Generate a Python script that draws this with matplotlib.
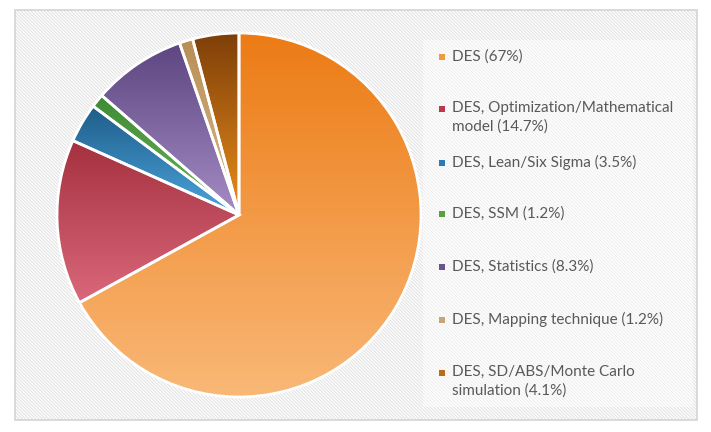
import numpy as np
import matplotlib
matplotlib.use("Agg")
import matplotlib.pyplot as plt
from matplotlib.patches import Rectangle
from matplotlib.colors import LinearSegmentedColormap

# --------------------- Data ---------------------
labels = [
    "DES (67%)",
    "DES, Optimization/Mathematical\nmodel (14.7%)",
    "DES, Lean/Six Sigma (3.5%)",
    "DES, SSM (1.2%)",
    "DES, Statistics (8.3%)",
    "DES, Mapping technique (1.2%)",
    "DES, SD/ABS/Monte Carlo\nsimulation (4.1%)",
]
shares = [67.0, 14.7, 3.5, 1.2, 8.3, 1.2, 4.1]

# gradient (top colour, bottom colour) per slice, plus legend key colour
grad_top = ["#EC7B14", "#A5313F", "#1E5D89", "#3F8A35", "#5C4580", "#B88E56", "#7E3F08"]
grad_bot = ["#F9B877", "#DA687B", "#4CA5DD", "#6BB75A", "#A58CC5", "#DABA8B", "#EA8E1C"]
key_cols = ["#F39A3E", "#B8394B", "#2C7BB6", "#5AA040", "#6A5390", "#C8A574", "#C0681C"]

# --------------------- Figure -------------------
W, H = 711, 432
fig = plt.figure(figsize=(W / 100, H / 100), dpi=100)
ax = fig.add_axes([0, 0, 1, 1])

# pie
cx, cy, r = 239, H - 215, 182
wedges, _ = ax.pie(shares, startangle=90, counterclock=False, center=(cx, cy),
                   radius=r, frame=True,
                   wedgeprops=dict(facecolor="none", edgecolor="white", linewidth=2.0))
ax.set_xlim(0, W)
ax.set_ylim(0, H)
ax.axis("off")

# chart area: white with fine diagonal hatch and grey border
plt.rcParams["hatch.linewidth"] = 0.8
ax.add_patch(Rectangle((15, 12), 682, 410, facecolor="white", edgecolor="#E2E2E2",
                       lw=0, hatch="\\" * 10, zorder=0))
ax.add_patch(Rectangle((15, 12), 682, 410, facecolor="none", edgecolor="#D4D4D4",
                       lw=1.2, zorder=5))
# lighter legend panel
ax.add_patch(Rectangle((423, 25), 270, 367, facecolor="white", edgecolor="none",
                       alpha=0.45, zorder=1))

for w, c_top, c_bot in zip(wedges, grad_top, grad_bot):
    w.set_zorder(3)
    verts = w.get_path().vertices
    x0, x1 = verts[:, 0].min(), verts[:, 0].max()
    y0, y1 = verts[:, 1].min(), verts[:, 1].max()
    cmap = LinearSegmentedColormap.from_list("g", [c_bot, c_top])
    grad = np.linspace(0, 1, 256).reshape(-1, 1)
    im = ax.imshow(grad, cmap=cmap, extent=(x0, x1, y0, y1), origin="lower",
                   aspect="auto", interpolation="bicubic", zorder=2)
    im.set_clip_path(w)

ax.set_xlim(0, W)
ax.set_ylim(0, H)

# legend (keys aligned with the first line of each entry)
legend_y = [57, 109, 163, 214, 267, 320, 373]
for lab, col, yy in zip(labels, key_cols, legend_y):
    ax.add_patch(Rectangle((439, H - yy - 3), 6, 6, facecolor=col, edgecolor="none", zorder=4))
    ax.text(452, H - yy + 8, lab, ha="left", va="top", fontsize=11, color="#595959",
            family="Lato", linespacing=1.35, zorder=4)

fig.savefig("out.png", dpi=100)
